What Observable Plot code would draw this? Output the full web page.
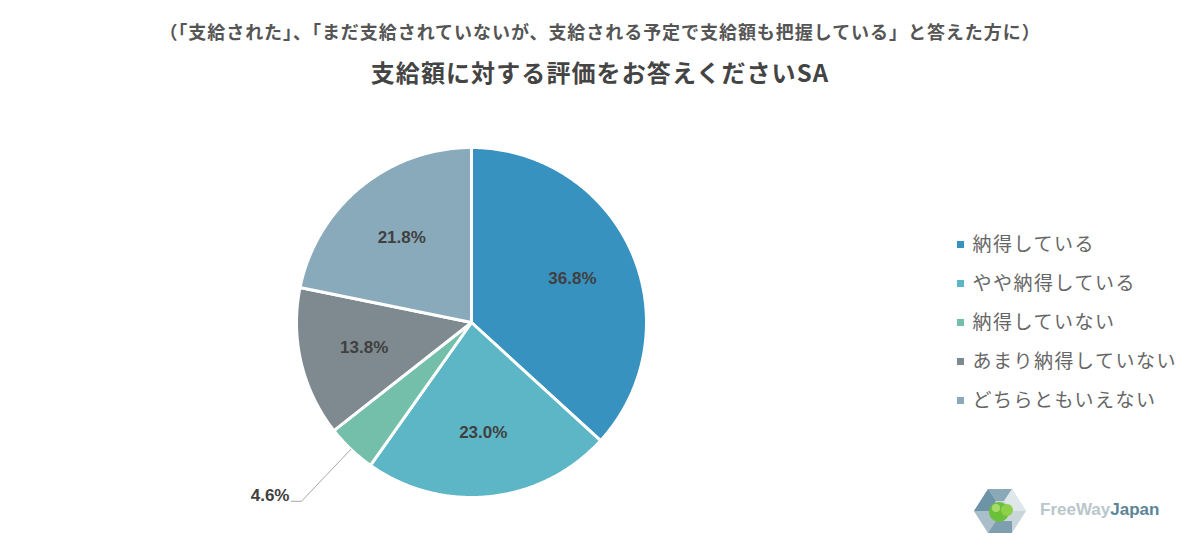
<!DOCTYPE html>
<html>
<head>
<meta charset="utf-8">
<script src="https://cdn.jsdelivr.net/npm/d3@7"></script>
<script src="https://cdn.jsdelivr.net/npm/@observablehq/plot@0.6"></script>
<style>
  html, body { margin: 0; padding: 0; background: #ffffff; }
  #wrap { position: relative; width: 1200px; height: 552px; overflow: hidden; }
  #head { height: 100px; position: relative; font-family: "Noto Sans CJK JP", "Noto Sans", sans-serif; color: #4a4a4a; }
  #sub { position: absolute; left: 0; right: 0; top: 18px; text-align: center; font-size: 18px; font-weight: bold; line-height: 26px; color: #555; letter-spacing: 0.95px; }
  #title { position: absolute; left: 0; right: 0; top: 56px; text-align: center; font-size: 24px; font-weight: bold; line-height: 32px; color: #444; letter-spacing: 1.1px; }
  #logo { position: absolute; left: 974px; top: 487px; width: 200px; height: 48px; }
  #logo .txt { position: absolute; left: 66px; top: 13px; font-family: "Liberation Sans", Arial, sans-serif; font-weight: bold; font-size: 17px; letter-spacing: 0px; }
  #logo .a { color: #b9c6cb; }
  #logo .b { color: #5b8597; }
</style>
</head>
<body>
<div id="wrap">
  <div id="head">
    <div id="sub">（「支給された」、「まだ支給されていないが、支給される予定で支給額も把握している」と答えた方に）</div>
    <div id="title">支給額に対する評価をお答えくださいSA</div>
  </div>
  <div id="chart"></div>
  <div id="logo">
    <svg width="56" height="48" viewBox="0 0 56 48" style="position:absolute;left:0;top:0">
      <polygon points="14,2 38,2 52,24 38,46 14,46 0,24" fill="#c9d6dc"/>
      <polygon points="14,2 38,2 30,14 22,14" fill="#8aa9b8"/>
      <polygon points="0,24 14,2 22,14 16,24" fill="#6d93a6"/>
      <polygon points="0,24 16,24 22,34 14,46" fill="#a9bec8"/>
      <polygon points="14,46 22,34 38,34 38,46" fill="#7d9fb0"/>
      <polygon points="38,2 52,24 40,24 30,14" fill="#dfe7ea"/>
      <circle cx="25" cy="25" r="10" fill="#6bbf3a"/>
      <circle cx="33" cy="23" r="6" fill="#8fd04a"/>
      <circle cx="22" cy="21" r="4" fill="#a8dc6a"/>
    </svg>
    <div class="txt"><span class="a">FreeWay</span><span class="b">Japan</span></div>
  </div>
</div>
<script>
// ---- data ----
const categories = ["納得している", "やや納得している", "納得していない", "あまり納得していない", "どちらともいえない"];
const values = [36.8, 23.0, 4.6, 13.8, 21.8];
const colors = ["#3892bf", "#5db6c5", "#74bfa9", "#7e8a8f", "#89aabb"];
const labels = ["36.8%", "23.0%", "4.6%", "13.8%", "21.8%"];

// ---- layout ----
const W = 1200, H = 452;
const cx = 471, cy = 222, R = 175;

const arcs = d3.pie().sort(null).value(d => d)(values);

const pt = (a, r) => ({x: cx + r * Math.sin(a), y: cy - r * Math.cos(a)});

// slice polygons
const slicePts = [];
arcs.forEach((a, i) => {
  slicePts.push({cat: categories[i], color: colors[i], ...pt(0, 0)});
  const n = Math.max(4, Math.ceil((a.endAngle - a.startAngle) / (Math.PI / 360)));
  for (let k = 0; k <= n; k++) {
    const ang = a.startAngle + (a.endAngle - a.startAngle) * k / n;
    slicePts.push({cat: categories[i], color: colors[i], ...pt(ang, R)});
  }
});

// labels
const inside = [], outside = [], leader = [];
arcs.forEach((a, i) => {
  const mid = (a.startAngle + a.endAngle) / 2;
  if (values[i] >= 8) {
    inside.push({text: labels[i], ...pt(mid, R * 0.63)});
  } else {
    const p0 = pt(mid, R);
    const p1 = pt(mid, R * 1.41);
    leader.push({k: i, ...p0}, {k: i, ...p1}, {k: i, x: p1.x - 10, y: p1.y});
    outside.push({text: labels[i], x: p1.x - 12, y: p1.y - 6});
  }
});

// legend
const legend = categories.map((c, i) => ({cat: c, color: colors[i], x: 960, y: 144 + i * 39}));

const plot = Plot.plot({
  width: W, height: H,
  margin: 0,
  x: {domain: [0, W], range: [0, W], axis: null},
  y: {domain: [0, H], range: [0, H], axis: null},
  color: {type: "identity"},
  marks: [
    Plot.line(slicePts, {x: "x", y: "y", z: "cat", fill: "color", stroke: "#ffffff", strokeWidth: 3, strokeLinejoin: "round", curve: "linear-closed"}),
    Plot.line(leader, {x: "x", y: "y", z: "k", stroke: "#a6a6a6", strokeWidth: 1}),
    Plot.text(inside, {x: "x", y: "y", text: "text", fontSize: 17, fontWeight: "bold", fill: "#404040", fontFamily: "Liberation Sans, Arial, sans-serif"}),
    Plot.text(outside, {x: "x", y: "y", text: "text", fontSize: 17, fontWeight: "bold", fill: "#404040", textAnchor: "end", fontFamily: "Liberation Sans, Arial, sans-serif"}),
    Plot.dot(legend, {x: "x", y: "y", fill: "color", symbol: "square", r: 4}),
    Plot.text(legend, {x: d => d.x + 12, y: "y", text: "cat", textAnchor: "start", fontSize: 19, fill: "#666666", fontFamily: "Noto Sans CJK JP, sans-serif"})
  ]
});
const textGroups = d3.select(plot).selectAll("g[aria-label='text']").nodes();
if (textGroups.length) d3.select(textGroups[textGroups.length - 1]).style("letter-spacing", "1.5px");
document.getElementById("chart").appendChild(plot);
</script>
</body>
</html>
